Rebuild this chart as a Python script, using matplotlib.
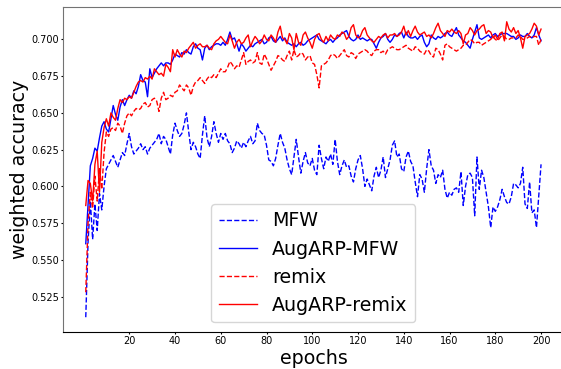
import numpy as np
import matplotlib
matplotlib.use("Agg")
import matplotlib.pyplot as plt

epochs = np.arange(1, 201)

mfw = [
    0.511, 0.562, 0.590, 0.564, 0.588, 0.570, 0.595, 0.584, 0.600, 0.612,
    0.615, 0.618, 0.621, 0.617, 0.613, 0.618, 0.623, 0.621, 0.629, 0.636,
    0.627, 0.622, 0.624, 0.626, 0.629, 0.625, 0.627, 0.622, 0.626, 0.628,
    0.630, 0.632, 0.636, 0.629, 0.634, 0.632, 0.627, 0.622, 0.635, 0.643,
    0.638, 0.634, 0.636, 0.642, 0.650, 0.637, 0.625, 0.630, 0.627, 0.622,
    0.619, 0.635, 0.648, 0.633, 0.627, 0.634, 0.644, 0.636, 0.630, 0.636,
    0.632, 0.636, 0.631, 0.629, 0.623, 0.626, 0.631, 0.629, 0.626, 0.630,
    0.627, 0.631, 0.634, 0.629, 0.631, 0.643, 0.638, 0.636, 0.635, 0.628,
    0.618, 0.617, 0.614, 0.619, 0.628, 0.636, 0.630, 0.626, 0.618, 0.612,
    0.608, 0.620, 0.632, 0.620, 0.609, 0.617, 0.623, 0.616, 0.614, 0.619,
    0.611, 0.608, 0.628, 0.619, 0.612, 0.620, 0.617, 0.622, 0.615, 0.632,
    0.617, 0.608, 0.614, 0.618, 0.613, 0.614, 0.607, 0.603, 0.612, 0.618,
    0.621, 0.612, 0.600, 0.605, 0.601, 0.597, 0.607, 0.613, 0.606, 0.611,
    0.620, 0.606, 0.612, 0.618, 0.628, 0.631, 0.620, 0.622, 0.612, 0.610,
    0.620, 0.624, 0.617, 0.614, 0.603, 0.593, 0.608, 0.605, 0.596, 0.612,
    0.625, 0.614, 0.611, 0.602, 0.608, 0.606, 0.611, 0.598, 0.592, 0.596,
    0.594, 0.598, 0.599, 0.596, 0.610, 0.587, 0.600, 0.608, 0.609, 0.606,
    0.580, 0.620, 0.598, 0.611, 0.606, 0.596, 0.586, 0.572, 0.586, 0.583,
    0.586, 0.591, 0.598, 0.593, 0.589, 0.588, 0.593, 0.602, 0.601, 0.599,
    0.602, 0.613, 0.588, 0.585, 0.603, 0.582, 0.584, 0.572, 0.593, 0.615,
]

aug_mfw = [
    0.561, 0.588, 0.614, 0.619, 0.626, 0.624, 0.633, 0.641, 0.644, 0.639,
    0.637, 0.646, 0.655, 0.649, 0.645, 0.654, 0.659, 0.655, 0.659, 0.662,
    0.660, 0.665, 0.663, 0.668, 0.676, 0.672, 0.671, 0.661, 0.680, 0.674,
    0.677, 0.680, 0.682, 0.684, 0.682, 0.684, 0.684, 0.683, 0.686, 0.690,
    0.689, 0.688, 0.691, 0.690, 0.693, 0.691, 0.690, 0.695, 0.697, 0.694,
    0.693, 0.686, 0.694, 0.696, 0.693, 0.695, 0.696, 0.697, 0.697, 0.696,
    0.698, 0.696, 0.700, 0.705, 0.700, 0.701, 0.697, 0.692, 0.697, 0.695,
    0.692, 0.694, 0.696, 0.695, 0.697, 0.698, 0.699, 0.700, 0.697, 0.698,
    0.701, 0.702, 0.699, 0.698, 0.700, 0.702, 0.699, 0.701, 0.698, 0.697,
    0.696, 0.697, 0.695, 0.697, 0.698, 0.696, 0.697, 0.699, 0.700, 0.701,
    0.702, 0.703, 0.700, 0.699, 0.698, 0.697, 0.699, 0.700, 0.698, 0.700,
    0.701, 0.703, 0.704, 0.705, 0.706, 0.702, 0.700, 0.699, 0.700, 0.703,
    0.700, 0.701, 0.700, 0.699, 0.700, 0.700, 0.697, 0.694, 0.698, 0.701,
    0.702, 0.704, 0.700, 0.698, 0.700, 0.703, 0.702, 0.704, 0.705, 0.701,
    0.705, 0.702, 0.701, 0.701, 0.702, 0.700, 0.702, 0.703, 0.698, 0.695,
    0.697, 0.703, 0.701, 0.700, 0.702, 0.701, 0.702, 0.704, 0.705, 0.703,
    0.702, 0.705, 0.708, 0.703, 0.701, 0.699, 0.698, 0.696, 0.694, 0.700,
    0.705, 0.710, 0.701, 0.700, 0.701, 0.702, 0.703, 0.701, 0.703, 0.704,
    0.702, 0.703, 0.704, 0.704, 0.704, 0.703, 0.702, 0.702, 0.700, 0.701,
    0.703, 0.702, 0.702, 0.704, 0.702, 0.701, 0.703, 0.708, 0.703, 0.699,
]

remix = [
    0.528, 0.575, 0.596, 0.585, 0.607, 0.590, 0.612, 0.598, 0.623, 0.637,
    0.634, 0.639, 0.640, 0.638, 0.643, 0.641, 0.636, 0.643, 0.648, 0.650,
    0.648, 0.651, 0.653, 0.652, 0.653, 0.656, 0.657, 0.654, 0.655, 0.659,
    0.660, 0.658, 0.651, 0.660, 0.664, 0.659, 0.660, 0.662, 0.661, 0.664,
    0.665, 0.669, 0.667, 0.665, 0.669, 0.667, 0.662, 0.668, 0.671, 0.672,
    0.674, 0.672, 0.670, 0.673, 0.675, 0.674, 0.676, 0.674, 0.677, 0.680,
    0.678, 0.678, 0.681, 0.685, 0.683, 0.680, 0.682, 0.681, 0.686, 0.691,
    0.683, 0.685, 0.686, 0.684, 0.685, 0.691, 0.684, 0.683, 0.690, 0.687,
    0.683, 0.679, 0.682, 0.685, 0.689, 0.688, 0.686, 0.685, 0.689, 0.692,
    0.686, 0.693, 0.688, 0.689, 0.691, 0.690, 0.686, 0.688, 0.689, 0.684,
    0.683, 0.676, 0.667, 0.682, 0.683, 0.684, 0.686, 0.689, 0.690, 0.689,
    0.687, 0.689, 0.691, 0.693, 0.689, 0.688, 0.691, 0.690, 0.687, 0.690,
    0.691, 0.692, 0.693, 0.692, 0.690, 0.689, 0.692, 0.693, 0.693, 0.691,
    0.692, 0.690, 0.693, 0.694, 0.695, 0.694, 0.693, 0.693, 0.694, 0.695,
    0.696, 0.694, 0.693, 0.692, 0.695, 0.694, 0.692, 0.691, 0.690, 0.693,
    0.692, 0.689, 0.688, 0.694, 0.693, 0.690, 0.686, 0.696, 0.697, 0.695,
    0.694, 0.693, 0.692, 0.693, 0.694, 0.696, 0.696, 0.698, 0.700, 0.699,
    0.697, 0.698, 0.698, 0.696, 0.697, 0.698, 0.699, 0.700, 0.702, 0.700,
    0.699, 0.701, 0.703, 0.702, 0.700, 0.700, 0.701, 0.701, 0.701, 0.703,
    0.702, 0.700, 0.700, 0.701, 0.702, 0.701, 0.702, 0.702, 0.696, 0.700,
]

aug_remix = [
    0.587, 0.604, 0.602, 0.590, 0.615, 0.624, 0.596, 0.630, 0.640, 0.646,
    0.641, 0.650, 0.647, 0.645, 0.653, 0.659, 0.657, 0.660, 0.659, 0.661,
    0.660, 0.664, 0.668, 0.671, 0.672, 0.671, 0.674, 0.673, 0.675, 0.673,
    0.680, 0.678, 0.676, 0.677, 0.675, 0.683, 0.681, 0.678, 0.693, 0.688,
    0.693, 0.690, 0.688, 0.692, 0.691, 0.694, 0.696, 0.698, 0.694, 0.696,
    0.697, 0.695, 0.695, 0.696, 0.694, 0.693, 0.697, 0.699, 0.700, 0.702,
    0.700, 0.698, 0.697, 0.703, 0.699, 0.694, 0.698, 0.700, 0.697, 0.698,
    0.701, 0.703, 0.695, 0.699, 0.702, 0.700, 0.697, 0.699, 0.703, 0.700,
    0.699, 0.703, 0.701, 0.698, 0.705, 0.709, 0.701, 0.700, 0.697, 0.704,
    0.701, 0.693, 0.704, 0.698, 0.696, 0.703, 0.705, 0.701, 0.698, 0.694,
    0.700, 0.703, 0.704, 0.700, 0.698, 0.702, 0.699, 0.703, 0.701, 0.700,
    0.703, 0.702, 0.705, 0.704, 0.700, 0.702, 0.708, 0.710, 0.703, 0.701,
    0.702, 0.706, 0.708, 0.703, 0.701, 0.699, 0.698, 0.700, 0.702, 0.701,
    0.703, 0.704, 0.701, 0.703, 0.703, 0.704, 0.702, 0.703, 0.705, 0.709,
    0.703, 0.706, 0.702, 0.706, 0.709, 0.705, 0.703, 0.704, 0.705, 0.702,
    0.703, 0.701, 0.704, 0.708, 0.711, 0.706, 0.704, 0.702, 0.706, 0.705,
    0.707, 0.705, 0.704, 0.706, 0.704, 0.697, 0.703, 0.704, 0.708, 0.706,
    0.703, 0.706, 0.707, 0.709, 0.710, 0.704, 0.706, 0.705, 0.701, 0.703,
    0.700, 0.704, 0.705, 0.699, 0.712, 0.707, 0.705, 0.708, 0.704, 0.706,
    0.701, 0.694, 0.702, 0.703, 0.704, 0.707, 0.711, 0.709, 0.703, 0.707,
]

xticks = list(range(20, 201, 20))
yticks = [0.525, 0.550, 0.575, 0.600, 0.625, 0.650, 0.675, 0.700]

fig = plt.figure(figsize=(5.61, 3.69), dpi=100)
ax = fig.add_axes([0.1123, 0.1003, 0.8927, 0.8808])

ax.plot(epochs, mfw, 'b--', lw=1, label='MFW')
ax.plot(epochs, aug_mfw, 'b-', lw=1, label='AugARP-MFW')
ax.plot(epochs, remix, 'r--', lw=1, label='remix')
ax.plot(epochs, aug_remix, 'r-', lw=1, label='AugARP-remix')

ax.set_xticks(xticks)
ax.set_yticks(yticks)
ax.set_yticklabels(['%.3f' % t for t in yticks])
ax.tick_params(labelsize=7, length=1.6, pad=1.3)

ax.spines['left'].set_color('0.45')
ax.spines['top'].set_color('0.45')
ax.spines['bottom'].set_color('black')

ax.set_xlabel('epochs', fontsize=13.7, labelpad=2)
ax.set_ylabel('weighted accuracy', fontsize=13.7, labelpad=1.5)
ax.legend(loc='lower center', fontsize=13.7, labelspacing=0.48)

fig.savefig('out.png', dpi=100)
